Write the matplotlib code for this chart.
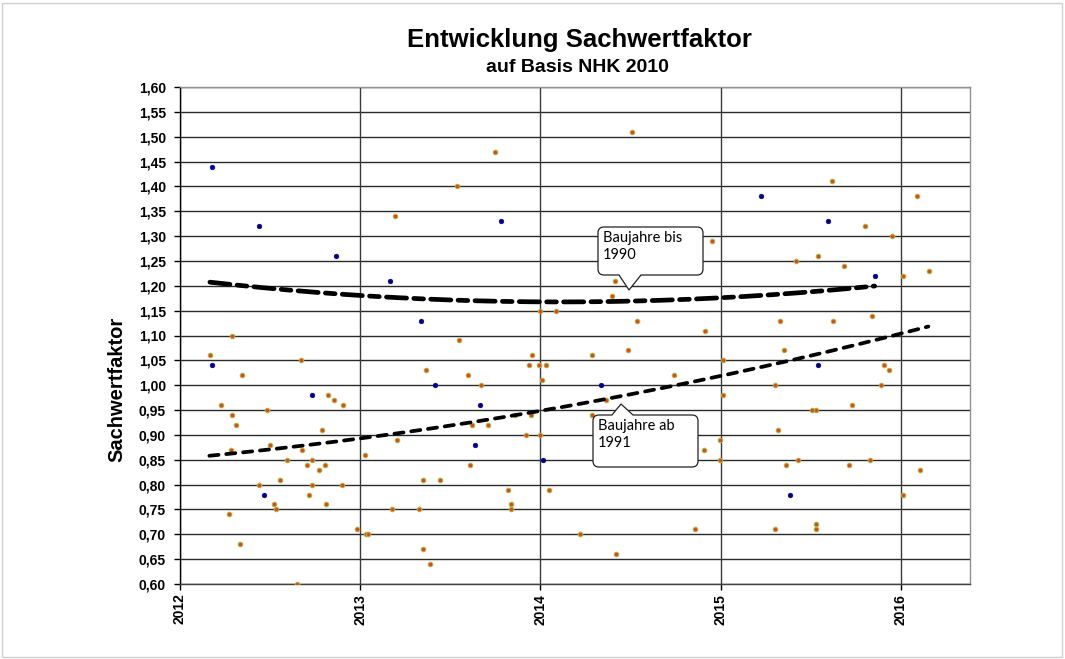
import numpy as np
import matplotlib
matplotlib.use("Agg")
import matplotlib.pyplot as plt
from matplotlib.path import Path
from matplotlib.patches import PathPatch, Rectangle
from matplotlib.ticker import FuncFormatter

# ---- data: sales date (decimal year) and Sachwertfaktor ----
ab1991_jahr = [
    2012.289, 2012.166, 2012.673, 2012.342, 2012.821, 2012.856, 2012.903, 2012.229,
    2012.289, 2012.481, 2012.313, 2012.788, 2012.498, 2012.283, 2012.677, 2012.594,
    2012.734, 2012.703, 2012.805, 2012.771, 2012.555, 2012.438, 2012.734, 2012.897,
    2012.714, 2012.524, 2012.533, 2012.808, 2012.274, 2012.982, 2013.030, 2013.045,
    2012.331, 2012.647, 2013.025, 2013.750, 2013.539, 2013.195, 2013.998, 2013.547,
    2013.951, 2013.365, 2013.935, 2013.990, 2014.029, 2013.596, 2013.669, 2014.007,
    2013.857, 2013.950, 2013.618, 2013.708, 2013.203, 2013.922, 2013.998, 2013.608,
    2013.347, 2013.443, 2013.822, 2013.837, 2013.837, 2013.175, 2013.325, 2013.347,
    2013.387, 2014.049, 2014.507, 2014.951, 2014.414, 2014.399, 2014.085, 2014.534,
    2014.913, 2014.286, 2014.484, 2015.013, 2014.740, 2015.012, 2014.364, 2014.284,
    2014.995, 2014.908, 2014.997, 2014.221, 2014.856, 2014.421, 2015.618, 2016.090,
    2015.801, 2015.951, 2015.543, 2015.416, 2015.683, 2016.012, 2016.158, 2015.330,
    2015.626, 2015.840, 2015.350, 2015.909, 2015.937, 2015.304, 2015.888, 2015.727,
    2015.505, 2015.529, 2015.320, 2015.363, 2015.431, 2015.714, 2015.831, 2016.108,
    2016.012, 2015.527, 2015.532, 2015.304,
]
ab1991_faktor = [
    1.10, 1.06, 1.05, 1.02, 0.98, 0.97, 0.96, 0.96,
    0.94, 0.95, 0.92, 0.91, 0.88, 0.87, 0.87, 0.85,
    0.85, 0.84, 0.84, 0.83, 0.81, 0.80, 0.80, 0.80,
    0.78, 0.76, 0.75, 0.76, 0.74, 0.71, 0.70, 0.70,
    0.68, 0.60, 0.86, 1.47, 1.40, 1.34, 1.15, 1.09,
    1.06, 1.03, 1.04, 1.04, 1.04, 1.02, 1.00, 1.01,
    0.94, 0.94, 0.92, 0.92, 0.89, 0.90, 0.90, 0.84,
    0.81, 0.81, 0.79, 0.76, 0.75, 0.75, 0.75, 0.67,
    0.64, 0.79, 1.51, 1.29, 1.21, 1.18, 1.15, 1.13,
    1.11, 1.06, 1.07, 1.05, 1.02, 0.98, 0.97, 0.94,
    0.89, 0.87, 0.85, 0.70, 0.71, 0.66, 1.41, 1.38,
    1.32, 1.30, 1.26, 1.25, 1.24, 1.22, 1.23, 1.13,
    1.13, 1.14, 1.07, 1.04, 1.03, 1.00, 1.00, 0.96,
    0.95, 0.95, 0.91, 0.84, 0.85, 0.84, 0.85, 0.83,
    0.78, 0.72, 0.71, 0.71,
]

bis1990_jahr = [
    2012.178, 2012.438, 2012.867, 2012.176, 2012.734, 2012.466, 2013.783, 2013.167,
    2013.339, 2013.417, 2013.665, 2013.635, 2014.016, 2014.338, 2015.226, 2015.598,
    2015.855, 2015.543, 2015.387,
]
bis1990_faktor = [
    1.44, 1.32, 1.26, 1.04, 0.98, 0.78, 1.33, 1.21,
    1.13, 1.00, 0.96, 0.88, 0.85, 1.00, 1.38, 1.33,
    1.22, 1.04, 0.78,
]

# trend curves (polynomial, 2nd order) - support values along each curve
trend_bis1990_jahr = [2012.166, 2013.0, 2014.0, 2015.0, 2015.855]
trend_bis1990_wert = [1.207, 1.181, 1.168, 1.175, 1.200]
trend_ab1991_jahr = [2012.163, 2013.0, 2014.0, 2015.0, 2016.153]
trend_ab1991_wert = [0.858, 0.893, 0.948, 1.019, 1.118]

jahre = [2012, 2013, 2014, 2015, 2016]
y_ticks = np.round(np.arange(0.60, 1.601, 0.05), 2)

# ---- figure ----
W, H, DPI = 1065, 659, 100
fig = plt.figure(figsize=(W / DPI, H / DPI), dpi=DPI)
plt.rcParams["lines.scale_dashes"] = False
bold = dict(family="Liberation Sans", weight="bold")

# thin grey frame around the chart object
fig.patches.append(Rectangle((2 / W, 2 / H), 1 - 5 / W, 1 - 5 / H,
                             transform=fig.transFigure, fill=False,
                             edgecolor="#D0D0D0", linewidth=1.0))

L, R, T, B = 180, 970, 87, 584
ax = fig.add_axes([L / W, 1 - B / H, (R - L) / W, (B - T) / H])

ax.set_xlim(2012, 2012 + (R - L) / 180.2)
ax.set_ylim(0.60, 1.60)

ax.set_xticks(jahre)
ax.set_xticklabels([str(j) for j in jahre], rotation=90, fontsize=10, **bold)
ax.set_yticks(y_ticks)
ax.yaxis.set_major_formatter(FuncFormatter(lambda v, p: f"{v:.2f}".replace(".", ",")))
for lab in ax.get_yticklabels():
    lab.set_fontsize(10)
    lab.set_fontfamily("Liberation Sans")
    lab.set_fontweight("bold")
ax.tick_params(axis="y", direction="out", length=4, width=1, pad=6, color="#000000")
ax.tick_params(axis="x", direction="out", length=4, width=1, pad=3, color="#000000")

# grid
for yv in y_ticks:
    ax.axhline(yv, color="#2a2a2a", lw=1.0, zorder=1)
for xv in jahre:
    ax.axvline(xv, color="#3a3a3a", lw=1.0, zorder=1)

ax.spines["left"].set_color("#000000")
ax.spines["bottom"].set_color("#404040")
ax.spines["top"].set_color("#909090")
ax.spines["right"].set_color("#909090")
for s in ax.spines.values():
    s.set_linewidth(1.0)

# scatter points
ax.plot(ab1991_jahr, ab1991_faktor, linestyle="none", marker="o", markersize=3.2,
        markerfacecolor="#E8401C", markeredgecolor="#A8B43C", markeredgewidth=0.8,
        zorder=3)
ax.plot(bis1990_jahr, bis1990_faktor, linestyle="none", marker="o", markersize=3.5,
        markerfacecolor="#00008B", markeredgecolor="#00008B", markeredgewidth=0.3,
        zorder=3)

# trend curves
def trend(xs, ys, n=200):
    c = np.polyfit(xs, ys, 2)
    xx = np.linspace(xs[0], xs[-1], n)
    return xx, np.polyval(c, xx)

xx, yy = trend(trend_bis1990_jahr, trend_bis1990_wert)
ax.plot(xx, yy, color="black", lw=3.4, dash_capstyle="round",
        dashes=(14.5, 5.2, 7.0, 5.2), zorder=4)
xx, yy = trend(trend_ab1991_jahr, trend_ab1991_wert)
ax.plot(xx, yy, color="black", lw=2.7, dash_capstyle="round",
        dashes=(6.6, 5.6), zorder=4)

# titles
fig.text(579 / W, 1 - 40 / H, "Entwicklung Sachwertfaktor", ha="center", va="center",
         fontsize=18.5, **bold)
fig.text(577 / W, 1 - 67 / H, "auf Basis NHK 2010", ha="center", va="center",
         fontsize=14, **bold)
fig.text(117 / W, 1 - 389 / H, "Sachwertfaktor", ha="center", va="center",
         rotation=90, fontsize=14.5, **bold)

# callout boxes (pixel geometry measured from top-left of the figure)
def callout(x0, y0, x1, y1, tip, base, text, r=6):
    def P(x, y):
        return ((x) / DPI, (H - y) / DPI)
    verts, codes = [], []

    def mv(x, y):
        verts.append(P(x, y)); codes.append(Path.MOVETO)

    def ln(x, y):
        verts.append(P(x, y)); codes.append(Path.LINETO)

    def cv(cx, cy, x, y):
        verts.extend([P(cx, cy), P(x, y)]); codes.extend([Path.CURVE3, Path.CURVE3])

    tip_top = tip[1] < y0
    mv(x0 + r, y0)
    if tip_top:
        ln(base[0], y0); ln(*tip); ln(base[1], y0)
    ln(x1 - r, y0); cv(x1, y0, x1, y0 + r)
    ln(x1, y1 - r); cv(x1, y1, x1 - r, y1)
    if not tip_top:
        ln(base[1], y1); ln(*tip); ln(base[0], y1)
    ln(x0 + r, y1); cv(x0, y1, x0, y1 - r)
    ln(x0, y0 + r); cv(x0, y0, x0 + r, y0)
    codes.append(Path.CLOSEPOLY); verts.append(P(x0 + r, y0))
    patch = PathPatch(Path(verts, codes), transform=fig.dpi_scale_trans,
                      facecolor="white", edgecolor="#222222", lw=0.9, zorder=10)
    fig.patches.append(patch)
    fig.text((x0 + 5) / W, 1 - (y0 + 4) / H, text, ha="left", va="top",
             fontsize=10.5, family="Lato", linespacing=1.3, zorder=11)

callout(598, 227, 703, 275, (629, 290), (619, 641), "Baujahre bis\n1990")
callout(593, 415, 698, 467, (621, 404), (612, 633), "Baujahre ab\n1991")

fig.savefig("out.png", dpi=DPI)
